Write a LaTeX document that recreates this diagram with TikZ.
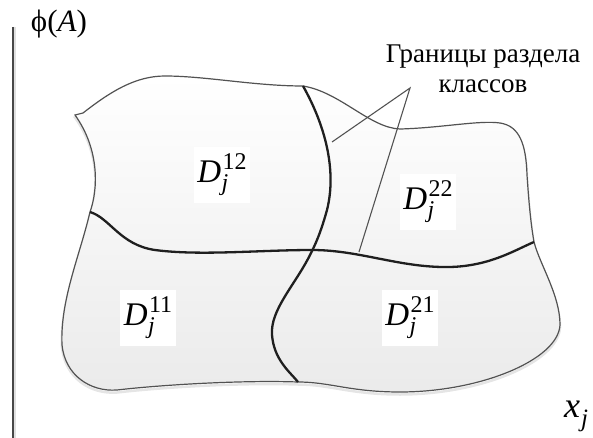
\documentclass[tikz,border=0pt]{standalone}
\usepackage{fontspec}
\setmainfont{Liberation Serif}
% D with an upright superscript index pair and an italic j below it
\newcommand\dlab[1]{\textit{D}\kern1.5pt{\fontsize{24}{26}\selectfont
  \rlap{\raisebox{13pt}{#1}}\rlap{\raisebox{-8pt}{\kern-1pt\textit{j}}}\phantom{#1}}}
\begin{document}
\begin{tikzpicture}[x=1pt,y=-1pt,
  outline/.style={draw=black!68, line width=1.2pt},
  border/.style={draw=black!88, line width=2.3pt},
  leader/.style={draw=black!68, line width=1.1pt},
  region/.style={fill=white, inner sep=0pt, minimum width=56pt, minimum height=56pt,
                 font=\fontsize{33}{38}\selectfont},
  caption/.style={font=\fontsize{27}{30}\selectfont, align=center, inner sep=0pt}]
  \useasboundingbox (0,0) rectangle (593,438);

  % vertical axis
  \coordinate (axtop) at (13,27);
  \coordinate (axbot) at (13,438);
  \draw[black!12, line width=1.5pt] ([xshift=2pt]axtop) -- ([xshift=2pt]axbot);
  \draw[black!72, line width=1.4pt] (axtop) -- (axbot);

  % the region outline
  \def\blob{(75,115) -- (83,113) .. controls (110,92) and (135,76) .. (165,76)
    .. controls (205,76) and (255,86) .. (303,86)
    .. controls (340,92) and (370,128) .. (400,129)
    .. controls (440,128) and (480,120) .. (500,123)
    .. controls (520,126) and (526,145) .. (527,175)
    .. controls (529,205) and (531,225) .. (534,242)
    .. controls (540,265) and (560,295) .. (560,325)
    .. controls (558,360) and (480,392) .. (400,392)
    .. controls (350,392) and (330,382) .. (298,382)
    .. controls (240,380) and (160,385) .. (117,390)
    .. controls (90,392) and (65,375) .. (62,345)
    .. controls (60,300) and (80,255) .. (90,212)
    .. controls (98,190) and (100,150) .. (75,115) -- cycle}
  % soft shadow under the region
  \draw[black!10, line width=2.5pt, yshift=-2.5pt] \blob;
  \shade[top color=white, bottom color=black!8] \blob;
  \draw[outline] \blob;

  % class borders
  \draw[border] (303,86) .. controls (325,125) and (337,170) .. (327,210)
    .. controls (320,235) and (315,245) .. (310,255)
    .. controls (295,285) and (270,310) .. (272,335)
    .. controls (274,360) and (290,372) .. (298,382);
  \draw[border] (90,212) .. controls (110,218) and (120,245) .. (155,250)
    .. controls (200,256) and (260,250) .. (312,250)
    .. controls (360,250) and (400,268) .. (450,267)
    .. controls (490,266) and (515,250) .. (534,242);

  % caption and its leader lines
  \node[caption] (cap) at (483,69) {Границы раздела\\классов};
  \coordinate (apex) at (410,88);
  \coordinate (onv) at (332,142);
  \coordinate (onh) at (359,252);
  \draw[leader] (onv) -- (apex) -- (onh);

  % region labels
  \node[region] (d12) at (222,175) {\dlab{12}};
  \node[region] (d22) at (428,202) {\dlab{22}};
  \node[region] (d11) at (148,318) {\dlab{11}};
  \node[region] (d21) at (410,318) {\dlab{21}};

  % axis labels
  \node[font=\fontsize{31}{34}\selectfont, inner sep=0pt] (phi) at (59,24) {ϕ(\textit{A})};
  \node[font=\fontsize{36}{40}\selectfont, inner sep=0pt] (xj) at (576,416) {\textit{x}\kern1pt\raisebox{-9pt}{\fontsize{25}{28}\selectfont\textit{j}}};
\end{tikzpicture}
\end{document}
